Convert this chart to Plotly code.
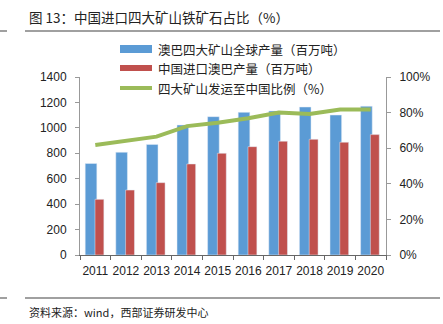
import plotly.graph_objects as go

years = ["2011", "2012", "2013", "2014", "2015", "2016", "2017", "2018", "2019", "2020"]
global_output = [720, 808, 870, 1022, 1088, 1122, 1133, 1164, 1101, 1170]
china_imports = [438, 511, 569, 716, 800, 852, 895, 910, 887, 947]
ratio = [0.618, 0.642, 0.665, 0.724, 0.743, 0.768, 0.801, 0.792, 0.818, 0.818]

name_blue = "澳巴四大矿山全球产量（百万吨）"
name_red = "中国进口澳巴产量（百万吨）"
name_green = "四大矿山发运至中国比例（%）"
title_text = "图 13：中国进口四大矿山铁矿石占比（%）"
source_text = "资料来源：wind，西部证券研发中心"

BLUE = "#5B9BD5"
RED = "#C0504D"
GREEN = "#9BBB59"
CJK = "Noto Sans CJK SC"
LAT = "Liberation Sans, Arial"

W, H = 443, 324
ML, MR, MT, MB = 80, 57, 77, 69
PW, PH = W - ML - MR, H - MT - MB

def px(x):
    return (x - ML) / PW

def py(y):
    return (H - MB - y) / PH

fig = go.Figure()
fig.add_trace(go.Bar(x=years, y=global_output, name=name_blue, marker_color=BLUE,
                     offset=-0.33, width=0.38, showlegend=False))
fig.add_trace(go.Bar(x=years, y=china_imports, name=name_red, marker_color=RED,
                     offset=-0.01, width=0.29, showlegend=False))
fig.add_trace(go.Scatter(x=years, y=ratio, name=name_green, yaxis="y2", mode="lines",
                         line=dict(color=GREEN, width=4), showlegend=False))

shapes = []
annotations = []
annotations.append(dict(x=px(27), y=py(17), xref="paper", yref="paper", text=title_text,
                        showarrow=False, xanchor="left", yanchor="middle",
                        font=dict(family=CJK, size=13.5, color="#222")))
annotations.append(dict(x=px(27), y=py(312), xref="paper", yref="paper", text=source_text,
                        showarrow=False, xanchor="left", yanchor="middle",
                        font=dict(family=CJK, size=11, color="#222")))
for yline in (31, 298):
    shapes.append(dict(type="line", xref="paper", yref="paper", x0=px(25), x1=px(440),
                       y0=py(yline), y1=py(yline), line=dict(color="#808080", width=1.5)))
    shapes.append(dict(type="line", xref="paper", yref="paper", x0=px(0), x1=px(7),
                       y0=py(yline), y1=py(yline), line=dict(color="#808080", width=1.5)))

leg = [(name_blue, BLUE, 49, "rect"), (name_red, RED, 68, "rect_thin"), (name_green, GREEN, 88, "line")]
for text, col, yc, kind in leg:
    if kind == "rect":
        shapes.append(dict(type="rect", xref="paper", yref="paper", x0=px(120), x1=px(152),
                           y0=py(yc - 4), y1=py(yc + 4), fillcolor=col, line=dict(width=0)))
    elif kind == "rect_thin":
        shapes.append(dict(type="rect", xref="paper", yref="paper", x0=px(120), x1=px(152),
                           y0=py(yc - 3), y1=py(yc + 3), fillcolor=col, line=dict(width=0)))
    else:
        shapes.append(dict(type="line", xref="paper", yref="paper", x0=px(120), x1=px(152),
                           y0=py(yc), y1=py(yc), line=dict(color=col, width=4)))
    annotations.append(dict(x=px(156), y=py(yc), xref="paper", yref="paper", text=text,
                            showarrow=False, xanchor="left", yanchor="middle",
                            font=dict(family=CJK, size=12.5, color="#222")))

fig.update_layout(
    width=W, height=H,
    margin=dict(l=ML, r=MR, t=MT, b=MB),
    paper_bgcolor="white", plot_bgcolor="white",
    barmode="overlay",
    showlegend=False,
    font=dict(family=LAT, size=12, color="#222"),
    xaxis=dict(type="category", range=[-0.5, 9.5], showline=True, linecolor="#666",
               linewidth=1, ticks="outside", tickson="boundaries", ticklen=4,
               tickcolor="#666", showgrid=False, tickangle=0, ticklabelstandoff=5,
               tickfont=dict(family=LAT, size=12)),
    yaxis=dict(range=[0, 1400], dtick=200, showline=True, linecolor="#999", linewidth=1,
               ticks="outside", ticklen=4, tickcolor="#999", showgrid=False, zeroline=False,
               tickfont=dict(family=LAT, size=12), ticklabelstandoff=6),
    yaxis2=dict(range=[0, 1], dtick=0.2, tickformat=".0%", overlaying="y", side="right",
                showline=True, linecolor="#999", linewidth=1, ticks="outside", ticklen=4,
                tickcolor="#999", showgrid=False, zeroline=False,
                tickfont=dict(family=LAT, size=12), ticklabelstandoff=6),
    shapes=shapes,
    annotations=annotations,
)

fig.write_html("out.html")
